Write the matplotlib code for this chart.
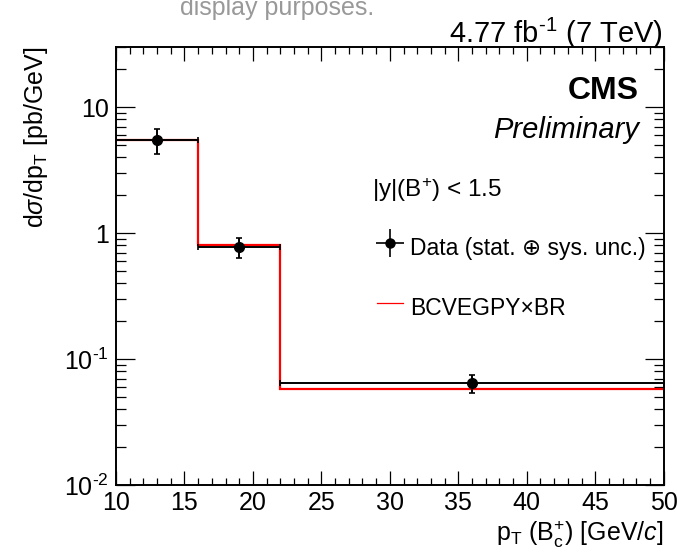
import numpy as np
import matplotlib
matplotlib.use("Agg")
import matplotlib.pyplot as plt
from matplotlib.ticker import MultipleLocator, LogLocator, FixedLocator, FixedFormatter, NullFormatter
from matplotlib.lines import Line2D
from matplotlib.container import ErrorbarContainer
from matplotlib.legend_handler import HandlerErrorbar

# Binned differential cross section
bin_edges = [10, 16, 22, 50]
bin_centers = [13, 19, 36]
data_xsec = [5.5, 0.77, 0.0645]
data_err = [1.25, 0.14, 0.0105]
theory_xsec = [5.5, 0.81, 0.058]

y_tick_values = [0.01, 0.1, 1, 10]
y_tick_labels = [r"10$^{\text{-2}}$", r"10$^{\text{-1}}$", "1", "10"]

plt.rcParams['font.family'] = ['Liberation Sans', 'DejaVu Sans']
plt.rcParams['mathtext.fontset'] = 'custom'
plt.rcParams['mathtext.rm'] = 'Liberation Sans'
plt.rcParams['mathtext.it'] = 'Liberation Sans:italic'
plt.rcParams['mathtext.bf'] = 'Liberation Sans:bold'
plt.rcParams['mathtext.sf'] = 'Liberation Sans'

W, H = 677, 557
fig = plt.figure(figsize=(W / 100, H / 100), dpi=100)
ax = fig.add_axes([116 / W, 72 / H, (663.7 - 116) / W, (485 - 47) / H])

edges = np.array(bin_edges, dtype=float)
centers = np.array(bin_centers, dtype=float)
xerr = np.vstack([centers - edges[:-1], edges[1:] - centers])

# Theory prediction as a step histogram
ax.stairs(theory_xsec, edges, color='red', lw=1.6, baseline=None, zorder=2)

# Data points with bin-width horizontal bars
ax.errorbar(centers, data_xsec, xerr=xerr, yerr=data_err, fmt='o', color='black',
            ms=7, lw=1.4, capsize=2.2, capthick=1.2, zorder=3)

ax.set_yscale('log')
ax.set_xlim(10, 50)
ax.set_ylim(0.01, 30)

ax.xaxis.set_major_locator(MultipleLocator(5))
ax.xaxis.set_minor_locator(MultipleLocator(1))
ax.yaxis.set_major_locator(FixedLocator(y_tick_values))
ax.yaxis.set_major_formatter(FixedFormatter(y_tick_labels))
ax.yaxis.set_minor_locator(LogLocator(base=10, subs=np.arange(2, 10)))
ax.yaxis.set_minor_formatter(NullFormatter())

ax.tick_params(axis='both', which='both', direction='in', top=True, right=True,
               labelsize=18, width=0.9)
ax.tick_params(axis='x', which='major', length=10, pad=4)
ax.tick_params(axis='x', which='minor', length=5)
ax.tick_params(axis='y', which='major', length=13.5, pad=5)
ax.tick_params(axis='y', which='minor', length=7)
for s in ax.spines.values():
    s.set_linewidth(1.4)

ax.set_xlabel(r"p$_{\mathregular{T}}$ (B$_{\mathregular{c}}^{+}$) [GeV/$c$]", fontsize=18,
              loc='right', labelpad=3)
ax.set_ylabel(r"d$\sigma$/dp$_{\mathregular{T}}$ [pb/GeV]", fontsize=18, loc='top', labelpad=10)

# Header texts
fig.text(663 / W, 1 - 33 / H, r"4.77 fb$^{\text{-1}}$ (7 TeV)", fontsize=21, ha='right', va='center')
fig.text(180 / W, 1 - 8 / H, "display purposes.", fontsize=18, color='#999999',
         ha='left', va='center')
ax.text(0.955, 0.9, "CMS", transform=ax.transAxes, fontsize=23, fontweight='bold',
        ha='right', va='center')
ax.text(0.955, 0.81, "Preliminary", transform=ax.transAxes, fontsize=21, style='italic',
        ha='right', va='center')
ax.text(372 / W, 1 - 190 / H, r"|y|(B$^{+}$) < 1.5", transform=fig.transFigure,
        fontsize=17.5, ha='left', va='center')

# Legend
data_handle = ax.errorbar([np.nan], [np.nan], xerr=[1], yerr=[1], fmt='o', color='black',
                          ms=6.5, lw=1.2)
theory_handle = Line2D([], [], color='red', lw=0.9)
leg = ax.legend([data_handle, theory_handle],
                ["Data (stat. \u2295 sys. unc.)", "BCVEGPY\u00d7BR"],
                loc='upper left', bbox_to_anchor=(377 / W, 1 - 231 / H),
                bbox_transform=fig.transFigure, frameon=False, fontsize=16.5,
                handlelength=1.15, handleheight=1.8, handletextpad=0.3,
                labelspacing=1.2, borderpad=0.0, borderaxespad=0.0,
                handler_map={ErrorbarContainer: HandlerErrorbar(xerr_size=0.6, yerr_size=0.62)})

fig.savefig("out.png", dpi=100)
